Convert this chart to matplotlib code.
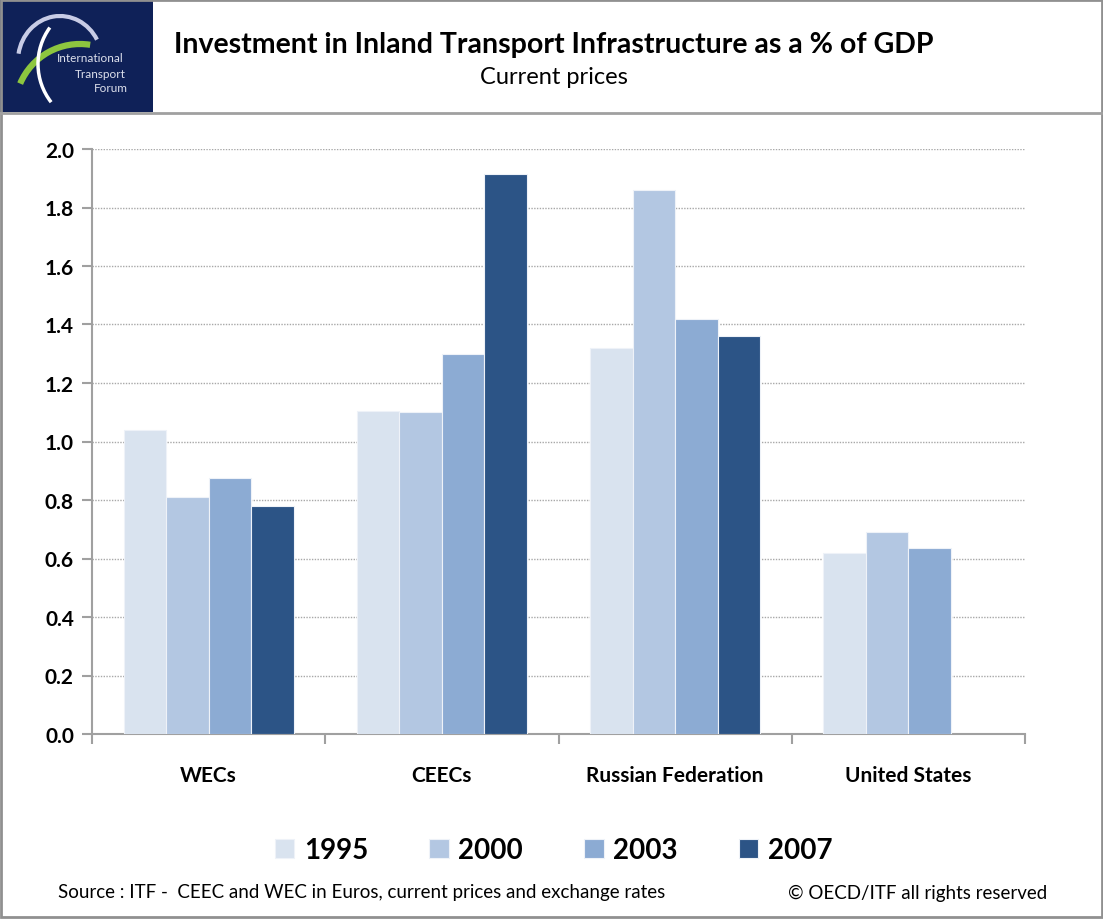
import numpy as np
import matplotlib.pyplot as plt
from matplotlib.patches import Rectangle, Arc

categories = ['WECs', 'CEECs', 'Russian Federation', 'United States']
years = ['1995', '2000', '2003', '2007']
v1995 = [1.04, 1.105, 1.32, 0.62]
v2000 = [0.81, 1.10, 1.86, 0.69]
v2003 = [0.875, 1.30, 1.42, 0.635]
v2007 = [0.78, 1.915, 1.36, np.nan]
colors = ['#D9E3EF', '#B3C7E2', '#8CABD3', '#2C5486']

plt.rcParams['font.family'] = ['Lato', 'DejaVu Sans']

fig = plt.figure(figsize=(11.03, 9.2), dpi=100)
ax = fig.add_axes([92 / 1103, 1 - 735 / 920, 933 / 1103, 585 / 920])

x = np.arange(len(categories))
w = 0.182
series = [v1995, v2000, v2003, v2007]
for i, vals in enumerate(series):
    ax.bar(x + (i - 1.5) * w, vals, w, color=colors[i], edgecolor='#EEF2F8',
           linewidth=0.8, label=years[i], zorder=3)

ax.set_xlim(-0.5, 3.5)
ax.set_ylim(0, 2.0)
ax.set_yticks(np.arange(0, 2.01, 0.2))
ax.set_yticklabels(['%.1f' % v for v in np.arange(0, 2.01, 0.2)],
                   fontsize=15, fontweight='bold')
ax.set_xticks(x)
ax.set_xticklabels(categories, fontsize=15, fontweight='bold')
ax.tick_params(axis='x', length=0, pad=22)
ax.set_xticks(np.arange(-0.5, 4.0, 1.0), minor=True)
ax.tick_params(axis='x', which='minor', length=7, color='#A0A0A0', width=1.5)
ax.tick_params(axis='y', length=7, color='#A0A0A0', width=1.5, pad=6)
ax.grid(axis='y', linestyle=(0, (1, 1)), color='#A8A8A8', linewidth=1, zorder=0)
for s in ['top', 'right']:
    ax.spines[s].set_visible(False)
for s in ['left', 'bottom']:
    ax.spines[s].set_color('#A0A0A0')
    ax.spines[s].set_linewidth(1.5)

fig.legend(loc='center', bbox_to_anchor=(0.502, 1 - 851 / 920), ncol=4,
           frameon=False, prop={'size': 20, 'weight': 'bold'},
           handlelength=0.7, handleheight=0.7, columnspacing=2.2, handletextpad=0.35)

fig.text(0.502, 1 - 45 / 920, 'Investment in Inland Transport Infrastructure as a % of GDP',
         ha='center', va='center', fontsize=20.5, fontweight='bold')
fig.text(0.502, 1 - 77 / 920, 'Current prices', ha='center', va='center', fontsize=17)
fig.text(58 / 1103, 1 - 893 / 920, 'Source : ITF -  CEEC and WEC in Euros, current prices and exchange rates',
         ha='left', va='center', fontsize=13.5)
fig.text(1047 / 1103, 1 - 893 / 920, '\u00a9 OECD/ITF all rights reserved',
         ha='right', va='center', fontsize=13.5)

# logo block
lax = fig.add_axes([0, 1 - 113 / 920, 153 / 1103, 113 / 920])
lax.set_facecolor('#0F2158')
lax.set_xlim(0, 153)
lax.set_ylim(113, 0)
lax.set_xticks([])
lax.set_yticks([])
for s in lax.spines.values():
    s.set_visible(False)
lax.add_patch(Arc((60, 62), 84, 90, theta1=190, theta2=330, color='#C8CCE6', lw=3))
lax.add_patch(Arc((80, 110), 130, 130, theta1=203, theta2=279, color='#8DC63F', lw=4.5))
lax.add_patch(Arc((100, 65), 124, 124, theta1=142, theta2=216, color='white', lw=2.5))
lax.text(90, 59, 'International', color='#DDE0EC', fontsize=8.5, ha='center', va='center')
lax.text(100, 74, 'Transport', color='#DDE0EC', fontsize=8.5, ha='center', va='center')
lax.text(111, 88, 'Forum', color='#DDE0EC', fontsize=8.5, ha='center', va='center')

# header separator and frame
fig.add_artist(plt.Line2D([0, 1], [1 - 114 / 920, 1 - 114 / 920], color='#A0A0A0', lw=2))
fig.add_artist(Rectangle((0.001, 0.002), 0.998, 0.997, transform=fig.transFigure,
                         fill=False, edgecolor='#909090', lw=2))

fig.savefig('out.png', dpi=100)
